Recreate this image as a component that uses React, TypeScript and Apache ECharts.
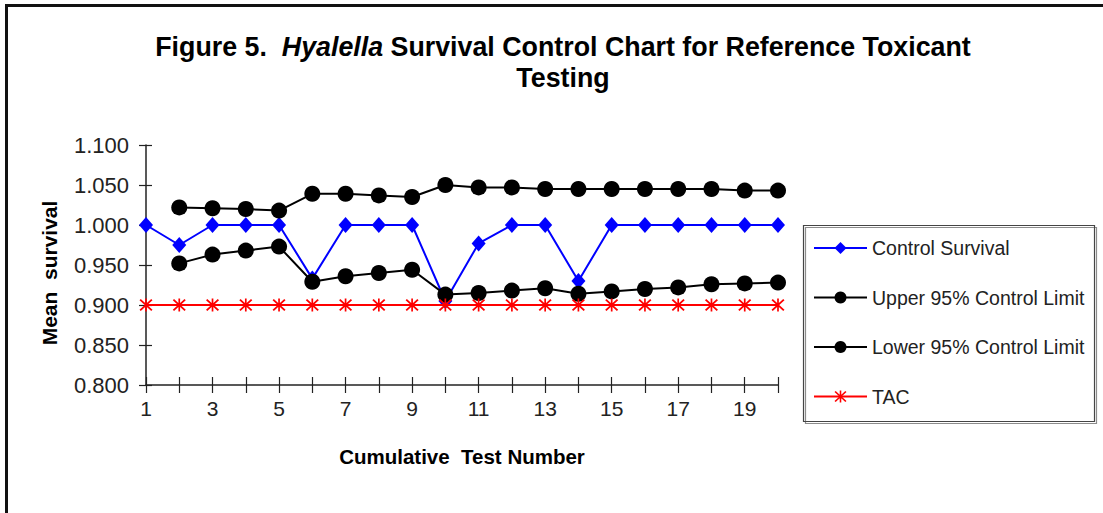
import React, { useEffect, useRef } from "react";
import * as echarts from "echarts";

// ---- Data ----
const testNumbers = ["1", "2", "3", "4", "5", "6", "7", "8", "9", "10", "11", "12", "13", "14", "15", "16", "17", "18", "19", "20"];
const controlSurvival = [1.0, 0.975, 1.0, 1.0, 1.0, 0.933, 1.0, 1.0, 1.0, 0.905, 0.977, 1.0, 1.0, 0.93, 1.0, 1.0, 1.0, 1.0, 1.0, 1.0];
const upperLimit = [null, 1.022, 1.021, 1.02, 1.018, 1.039, 1.039, 1.037, 1.035, 1.05, 1.047, 1.047, 1.045, 1.045, 1.045, 1.045, 1.045, 1.045, 1.043, 1.043];
const lowerLimit = [null, 0.952, 0.963, 0.968, 0.973, 0.929, 0.936, 0.94, 0.944, 0.913, 0.915, 0.918, 0.921, 0.914, 0.917, 0.92, 0.922, 0.926, 0.927, 0.928];
const tacValues = [0.9, 0.9, 0.9, 0.9, 0.9, 0.9, 0.9, 0.9, 0.9, 0.9, 0.9, 0.9, 0.9, 0.9, 0.9, 0.9, 0.9, 0.9, 0.9, 0.9];
const seriesNames = ["Control Survival", "Upper 95% Control Limit", "Lower 95% Control Limit", "TAC"];
const yMin = 0.8;
const yMax = 1.1;
const yStep = 0.05;

const FONT = '"Liberation Sans", Arial, Helvetica, sans-serif';
const ASTERISK =
  "path://M4.4 0 L5.6 0 L5.6 10 L4.4 10 Z M0.4 1.3 L1.3 0.4 L9.6 8.7 L8.7 9.6 Z M8.7 0.4 L9.6 1.3 L1.3 9.6 L0.4 8.7 Z";

export default function App() {
  const ref = useRef<HTMLDivElement>(null);

  useEffect(() => {
    if (!ref.current) return;
    const chart = echarts.init(ref.current, null, { renderer: "svg" });
    const gridLeft = 146;
    const gridTop = 145;
    const gridRight = 1103 - 778;
    const gridBottom = 513 - 385;
    const gridHeight = 513 - gridTop - gridBottom;
    const gridWidth = 1103 - gridLeft - gridRight;

    const option: any = {
      animation: false,
      backgroundColor: "#ffffff",
      title: {
        left: 563,
        top: 31,
        textAlign: "center",
        padding: 0,
        text: "{n|Figure 5.  }{i|Hyalella}{n| Survival Control Chart for Reference Toxicant}\n{n|Testing}",
        textStyle: {
          rich: {
            n: { fontFamily: FONT, fontWeight: "bold", fontSize: 26.8, color: "#000", lineHeight: 31 },
            i: { fontFamily: FONT, fontWeight: "bold", fontStyle: "italic", fontSize: 26.8, color: "#000", lineHeight: 31 },
          },
        },
      },
      legend: {
        orient: "vertical",
        left: 813,
        top: 238,
        padding: 0,
        itemWidth: 53,
        itemHeight: 15,
        itemGap: 29.5,
        data: seriesNames,
        textStyle: { fontFamily: FONT, fontSize: 19.5, color: "#222", lineHeight: 20 },
      },
      grid: { left: gridLeft, top: gridTop, right: gridRight, bottom: gridBottom, containLabel: false },
      xAxis: [
        {
          type: "category",
          data: testNumbers,
          boundaryGap: false,
          name: "Cumulative  Test Number",
          nameLocation: "middle",
          nameGap: 61,
          nameTextStyle: { fontFamily: FONT, fontWeight: "bold", fontSize: 20.5, color: "#000" },
          axisLine: { show: true, lineStyle: { color: "#222", width: 1.5 } },
          axisTick: { show: true, interval: 0, inside: false, length: 8, lineStyle: { color: "#222", width: 1.2 } },
          axisLabel: { interval: 1, margin: 13, fontFamily: FONT, fontSize: 21, color: "#222" },
          splitLine: { show: false },
        },
        {
          type: "category",
          data: testNumbers,
          boundaryGap: false,
          position: "top",
          offset: -gridHeight,
          axisLine: { show: false },
          axisTick: { show: true, interval: 0, inside: false, length: 8, lineStyle: { color: "#222", width: 1.2 } },
          axisLabel: { show: false },
          splitLine: { show: false },
        },
      ],
      yAxis: [
        {
          type: "value",
          min: yMin,
          max: yMax,
          interval: yStep,
          name: "Mean  survival",
          nameLocation: "middle",
          nameGap: 86,
          nameRotate: 90,
          nameTextStyle: { fontFamily: FONT, fontWeight: "bold", fontSize: 21, color: "#000", padding: [0, 16, 0, 0] },
          axisLine: { show: true, lineStyle: { color: "#222", width: 1.5 } },
          axisTick: { show: true, inside: false, length: 7, lineStyle: { color: "#222", width: 1.2 } },
          axisLabel: {
            margin: 17,
            fontFamily: FONT,
            fontSize: 22,
            color: "#222",
            formatter: (v: number) => v.toFixed(3),
          },
          splitLine: { show: false },
        },
        {
          type: "value",
          min: yMin,
          max: yMax,
          interval: yStep,
          position: "right",
          offset: -gridWidth,
          axisLine: { show: false },
          axisTick: { show: true, inside: false, length: 6, lineStyle: { color: "#222", width: 1.2 } },
          axisLabel: { show: false },
          splitLine: { show: false },
        },
      ],
      series: [
        {
          name: seriesNames[0],
          type: "line",
          data: controlSurvival,
          symbol: "diamond",
          symbolSize: [14, 16],
          lineStyle: { color: "#0000ff", width: 2 },
          itemStyle: { color: "#0000ff" },
          z: 2,
        },
        {
          name: seriesNames[1],
          type: "line",
          data: upperLimit,
          symbol: "circle",
          symbolSize: 16,
          lineStyle: { color: "#000", width: 2 },
          itemStyle: { color: "#000" },
          z: 3,
        },
        {
          name: seriesNames[2],
          type: "line",
          data: lowerLimit,
          symbol: "circle",
          symbolSize: 16,
          lineStyle: { color: "#000", width: 2 },
          itemStyle: { color: "#000" },
          z: 4,
        },
        {
          name: seriesNames[3],
          type: "line",
          data: tacValues,
          symbol: ASTERISK,
          symbolSize: 13,
          lineStyle: { color: "#ff0000", width: 2 },
          itemStyle: { color: "#ff0000" },
          z: 5,
        },
      ],
      graphic: [
        {
          type: "line",
          shape: { x1: 5, y1: 5.5, x2: 1103, y2: 5.5 },
          style: { stroke: "#111", lineWidth: 3 },
        },
        {
          type: "line",
          shape: { x1: 6.5, y1: 5, x2: 6.5, y2: 513 },
          style: { stroke: "#111", lineWidth: 3 },
        },
        {
          type: "rect",
          shape: { x: 803.5, y: 225.5, width: 291, height: 196 },
          style: {
            fill: "none",
            stroke: "#444",
            lineWidth: 1.2,
            shadowColor: "rgba(0,0,0,0.45)",
            shadowOffsetX: 2,
            shadowOffsetY: 2,
            shadowBlur: 0,
          },
          z: -1,
        },
      ],
    };

    chart.setOption(option);
    return () => chart.dispose();
  }, []);

  return (
    <div
      ref={ref}
      style={{ position: "fixed", left: 0, top: 0, width: 1103, height: 513, background: "#fff" }}
    />
  );
}
